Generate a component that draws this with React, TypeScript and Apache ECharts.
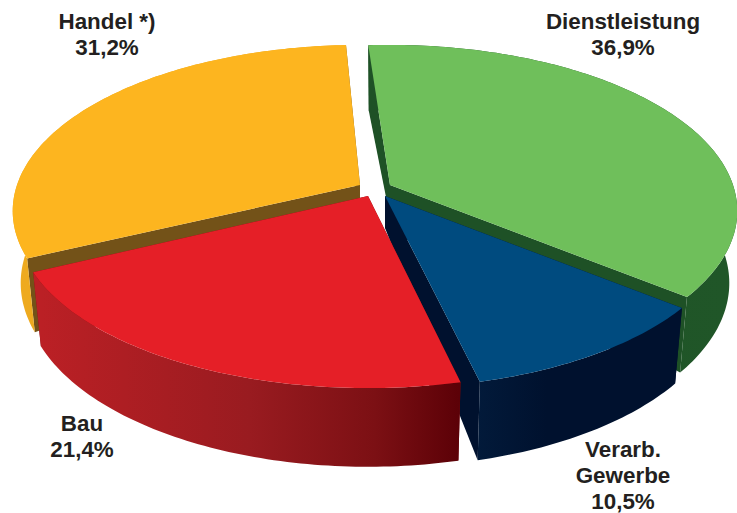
import React, { useEffect, useRef } from "react";
import * as echarts from "echarts";

// Slices in clockwise order, from the top of the pie
const categories = ["Dienstleistung", "Verarb.\nGewerbe", "Bau", "Handel *)"];
const shares = [36.9, 10.5, 21.4, 31.2];
const shareLabels = ["36,9%", "10,5%", "21,4%", "31,2%"];

// Styling per slice
const topColors = ["#6fbf5b", "#004b7f", "#e51f27", "#fdb51f"];
const innerWallColors = ["#1e5126", "#00112e", "#7a1015", "#735218"];
const outerWallStops: [number, string][][] = [
  [[0, "#1e5126"], [1, "#205628"]],
  [[0, "#021a3a"], [0.35, "#00112e"], [1, "#00112e"]],
  [[0, "#bb2025"], [0.5, "#991b20"], [0.8, "#7c1014"], [1, "#5c0107"]],
  [[0, "#eeaa1f"], [1, "#f0a81e"]],
];
const apexX = [390, 385, 368, 360];
const apexY = [185, 196, 196, 185];
const radiusX = [343, 343, 347, 343];
const turnDeg = [0, 0, 0.5, 1.5];
const drawOrder = [0, 3, 1, 2];
const labelX = [623, 623, 82, 107];
const labelY = [8, 436, 410, 8];

const START_DEG = -4.2;
const RADIUS_Y = 162;
const PERSPECTIVE = 0.1566;
const DEPTH_APEX = 32;
const BOTTOM_SCALE = 0.977;

const total = shares.reduce((a, b) => a + b, 0);

function topPoint(i: number, deg: number): number[] {
  const t = (deg * Math.PI) / 180;
  const u = Math.sin(t);
  const v = Math.cos(t);
  const d = 1 + PERSPECTIVE * v;
  return [(radiusX[i] * u) / d, (-RADIUS_Y * v) / d];
}

function bottomPoint(i: number, deg: number): number[] {
  const [x, y] = topPoint(i, deg);
  return [x * BOTTOM_SCALE, y + 71 + 0.04 * y];
}

function renderItem(_params: any, api: any) {
  const i = api.value(0) as number;
  const before = shares.slice(0, i).reduce((a, b) => a + b, 0);
  const a0 = START_DEG + turnDeg[i] + (before / total) * 360;
  const a1 = a0 + (api.value(1) / total) * 360;
  const ax = apexX[i];
  const ay = apexY[i];
  const at = (p: number[]) => [ax + p[0], ay + p[1]];

  const degs: number[] = [];
  const steps = Math.ceil(a1 - a0);
  for (let s = 0; s <= steps; s++) degs.push(a0 + ((a1 - a0) * s) / steps);
  const top = degs.map((d) => at(topPoint(i, d)));
  const bottom = degs.map((d) => at(bottomPoint(i, d)));
  const topApex = [ax, ay];
  const botApex = [ax, ay + DEPTH_APEX];

  const xs = bottom.map((p) => p[0]);
  const minX = Math.min(...xs);
  const maxX = Math.max(...xs);
  const wallFill = new echarts.graphic.LinearGradient(
    minX, 0, maxX, 0,
    outerWallStops[i].map(([offset, color]) => ({ offset, color })),
    true
  );

  const poly = (points: number[][], fill: any) => ({
    type: "polygon",
    shape: { points },
    style: { fill },
    silent: true,
  });

  return {
    type: "group",
    children: [
      poly([topApex, botApex, bottom[0], top[0]], innerWallColors[i]),
      poly([topApex, botApex, bottom[bottom.length - 1], top[top.length - 1]], innerWallColors[i]),
      poly([...top, ...bottom.slice().reverse()], wallFill),
      poly([topApex, ...top], topColors[i]),
    ],
  };
}

export default function App() {
  const ref = useRef<HTMLDivElement>(null);
  useEffect(() => {
    const chart = echarts.init(ref.current!, undefined, { renderer: "svg" });
    chart.setOption({
      animation: false,
      backgroundColor: "#ffffff",
      series: [
        {
          type: "custom",
          coordinateSystem: "none",
          clip: false,
          silent: true,
          renderItem,
          encode: { value: [0, 1] },
          data: drawOrder.map((i) => [i, shares[i]]),
        },
      ],
      graphic: categories.map((c, i) => ({
        type: "text",
        silent: true,
        z: 10,
        x: labelX[i],
        y: labelY[i],
        style: {
          text: `${c}\n${shareLabels[i]}`,
          font: '700 22.4px "Liberation Sans", Arial, sans-serif',
          lineHeight: 26,
          textAlign: "center",
          fill: "#231f20",
        },
      })),
    });
    return () => chart.dispose();
  }, []);
  return (
    <div
      ref={ref}
      style={{ position: "fixed", left: 0, top: 0, width: 737, height: 513 }}
    />
  );
}
